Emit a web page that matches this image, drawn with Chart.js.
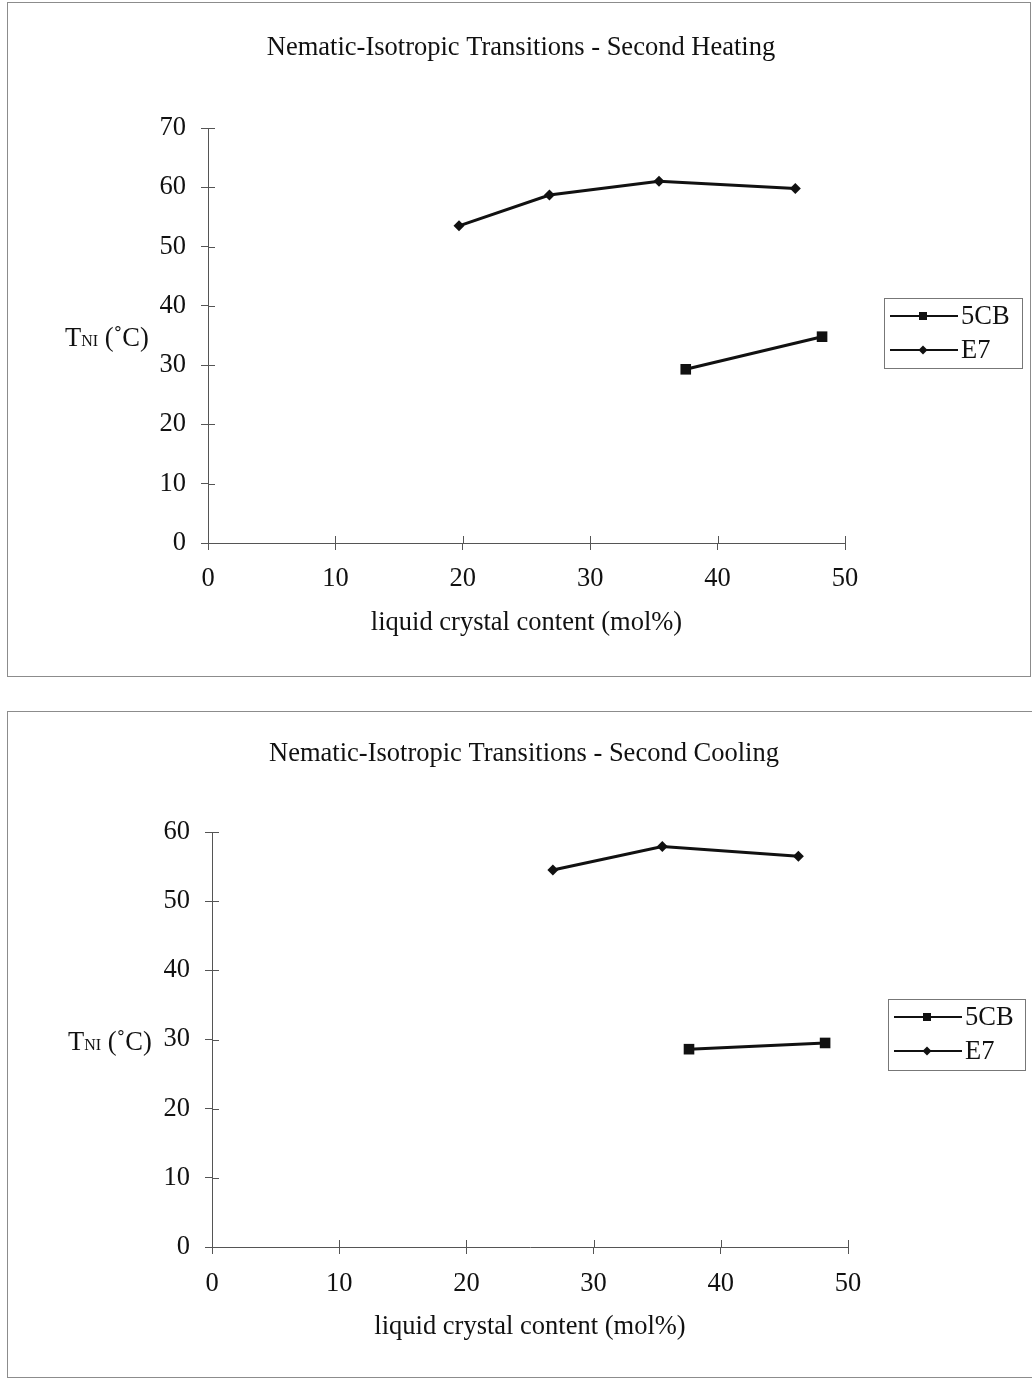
<!DOCTYPE html>
<html>
<head>
<meta charset="utf-8">
<title>Nematic-Isotropic Transitions</title>
<script src="https://cdn.jsdelivr.net/npm/chart.js@4.4.0/dist/chart.umd.min.js"></script>
<style>
  body { margin: 0; background: #fff; }
  #page { position: relative; width: 1032px; height: 1378px; overflow: hidden; }
  .panel { position: absolute; border: 1px solid #8c8c8c; }
  .wrap { position: absolute; left: 0; width: 1032px; }
</style>
</head>
<body>
<div id="page">
  <div class="panel" style="left:7px; top:2px; width:1022px; height:673px;"></div>
  <div class="panel" style="left:7px; top:711px; width:1030px; height:665px; border-right:none;"></div>
  <div class="wrap" style="top:0; height:690px;"><canvas id="heatChart"></canvas></div>
  <div class="wrap" style="top:690px; height:688px;"><canvas id="coolChart"></canvas></div>
</div>

<script>
// data
const xTickValues = [0, 10, 20, 30, 40, 50];
const heatYTicks = [0, 10, 20, 30, 40, 50, 60, 70];
const coolYTicks = [0, 10, 20, 30, 40, 50, 60];

const seriesNames = ['5CB', 'E7'];

const heat5cbX = [37.5, 48.2];
const heat5cbY = [29.3, 34.8];
const heatE7X = [19.7, 26.8, 35.4, 46.1];
const heatE7Y = [53.5, 58.7, 61.0, 59.8];

const cool5cbX = [37.5, 48.2];
const cool5cbY = [28.6, 29.5];
const coolE7X = [26.8, 35.4, 46.1];
const coolE7Y = [54.5, 57.9, 56.5];

const FONT = "'Liberation Serif', 'Times New Roman', serif";
const FSIZE = 26.5;
const INK = '#111';
const AXIS = '#555';
const TICK_LEN = 7;

function points(xs, ys) {
    return xs.map((x, i) => ({ x: x, y: ys[i] }));
}

function drawMarker(ctx, style, x, y, r) {
    ctx.beginPath();
    if (style === 'rect') {
        ctx.rect(x - r, y - r, 2 * r, 2 * r);
    } else {
        ctx.moveTo(x, y - r);
        ctx.lineTo(x + r, y);
        ctx.lineTo(x, y + r);
        ctx.lineTo(x - r, y);
        ctx.closePath();
    }
    ctx.fill();
}

// chart title, horizontal y title, inner half of the cross ticks, boxed legend
const panelDecor = {
    id: 'panelDecor',
    afterDraw(chart, args, opts) {
        const ctx = chart.ctx;
        const area = chart.chartArea;
        const xs = chart.scales.x;
        const ys = chart.scales.y;
        ctx.save();

        ctx.fillStyle = INK;
        ctx.font = FSIZE + 'px ' + FONT;
        ctx.textAlign = 'center';
        ctx.textBaseline = 'middle';
        ctx.fillText(opts.title, opts.titleX, opts.titleY);

        ctx.strokeStyle = AXIS;
        ctx.lineWidth = 1;
        ctx.beginPath();
        xs.ticks.forEach(t => {
            if (t.value === xs.min) return;
            const px = Math.round(xs.getPixelForValue(t.value)) + 0.5;
            ctx.moveTo(px, area.bottom);
            ctx.lineTo(px, area.bottom - TICK_LEN);
        });
        ys.ticks.forEach(t => {
            if (t.value === ys.min) return;
            const py = Math.round(ys.getPixelForValue(t.value)) + 0.5;
            ctx.moveTo(area.left, py);
            ctx.lineTo(area.left + TICK_LEN, py);
        });
        ctx.stroke();

        // T_NI (°C)
        ctx.textBaseline = 'alphabetic';
        ctx.textAlign = 'left';
        const base = (area.top + area.bottom) / 2 + 10;
        let tx = opts.yTitleX;
        ctx.font = FSIZE + 'px ' + FONT;
        ctx.fillText('T', tx, base);
        tx += ctx.measureText('T').width;
        ctx.font = '16px ' + FONT;
        ctx.fillText('NI', tx, base);
        tx += ctx.measureText('NI').width;
        ctx.font = FSIZE + 'px ' + FONT;
        ctx.fillText(' (\u02DAC)', tx, base);

        // legend
        const b = opts.box;
        ctx.strokeStyle = '#777';
        ctx.lineWidth = 1;
        ctx.strokeRect(b.x + 0.5, b.y + 0.5, b.w, b.h);
        chart.data.datasets.forEach((ds, i) => {
            const y = b.y + 18 + i * 34;
            ctx.strokeStyle = INK;
            ctx.lineWidth = 2;
            ctx.beginPath();
            ctx.moveTo(b.x + 6, y);
            ctx.lineTo(b.x + 74, y);
            ctx.stroke();
            ctx.fillStyle = INK;
            drawMarker(ctx, ds.pointStyle, b.x + 39, y, ds.pointStyle === 'rect' ? 4 : 4.5);
            ctx.font = FSIZE + 'px ' + FONT;
            ctx.textBaseline = 'middle';
            ctx.fillText(ds.label, b.x + 77, y + 1);
        });
        ctx.restore();
    }
};

function makeChart(id, titleText, s5cb, sE7, yTicks, geo) {
    const ctx = document.getElementById(id).getContext('2d');
    return new Chart(ctx, {
        type: 'scatter',
        data: {
            datasets: [{
                label: seriesNames[0],
                data: s5cb,
                showLine: true,
                borderColor: INK,
                borderWidth: 3,
                backgroundColor: INK,
                pointStyle: 'rect',
                pointRadius: 7.5,
                pointBorderWidth: 0
            }, {
                label: seriesNames[1],
                data: sE7,
                showLine: true,
                borderColor: INK,
                borderWidth: 3,
                backgroundColor: INK,
                pointStyle: 'rectRot',
                pointRadius: 5.5,
                pointBorderWidth: 0
            }]
        },
        options: {
            responsive: true,
            maintainAspectRatio: false,
            animation: false,
            layout: {
                padding: { left: 0, right: geo.right, top: geo.top, bottom: geo.bottom }
            },
            plugins: {
                legend: { display: false },
                tooltip: { enabled: false },
                title: { display: false },
                panelDecor: {
                    title: titleText, titleX: geo.titleX, titleY: geo.titleY,
                    box: geo.box, yTitleX: geo.yTitleX
                }
            },
            scales: {
                x: {
                    type: 'linear',
                    min: xTickValues[0],
                    max: xTickValues[xTickValues.length - 1],
                    afterBuildTicks: s => { s.ticks = xTickValues.map(v => ({ value: v })); },
                    afterFit: s => { s.height = 100; },
                    border: { display: true, color: AXIS, width: 1 },
                    grid: { drawOnChartArea: false, drawTicks: true, tickLength: TICK_LEN, color: AXIS },
                    ticks: { color: INK, font: { family: FONT, size: FSIZE }, padding: geo.xPad, maxRotation: 0 },
                    title: {
                        display: true,
                        text: 'liquid crystal content (mol%)',
                        color: INK,
                        font: { family: FONT, size: FSIZE },
                        padding: { top: 0, bottom: 4 }
                    }
                },
                y: {
                    type: 'linear',
                    min: yTicks[0],
                    max: yTicks[yTicks.length - 1],
                    afterBuildTicks: s => { s.ticks = yTicks.map(v => ({ value: v })); },
                    afterFit: s => { s.width = geo.left; },
                    border: { display: true, color: AXIS, width: 1 },
                    grid: { drawOnChartArea: false, drawTicks: true, tickLength: TICK_LEN, color: AXIS },
                    ticks: { color: INK, font: { family: FONT, size: FSIZE }, padding: 15 }
                }
            }
        },
        plugins: [panelDecor]
    });
}

makeChart('heatChart', 'Nematic-Isotropic Transitions - Second Heating',
    points(heat5cbX, heat5cbY), points(heatE7X, heatE7Y), heatYTicks,
    { left: 208, right: 187, top: 128, bottom: 47, xPad: 13, titleX: 521, titleY: 48, yTitleX: 65,
      box: { x: 884, y: 298, w: 138, h: 70 } });

makeChart('coolChart', 'Nematic-Isotropic Transitions - Second Cooling',
    points(cool5cbX, cool5cbY), points(coolE7X, coolE7Y), coolYTicks,
    { left: 212, right: 184, top: 142, bottom: 31, xPad: 14, titleX: 524, titleY: 64, yTitleX: 68,
      box: { x: 888, y: 309, w: 137, h: 71 } });
</script>
</body>
</html>
